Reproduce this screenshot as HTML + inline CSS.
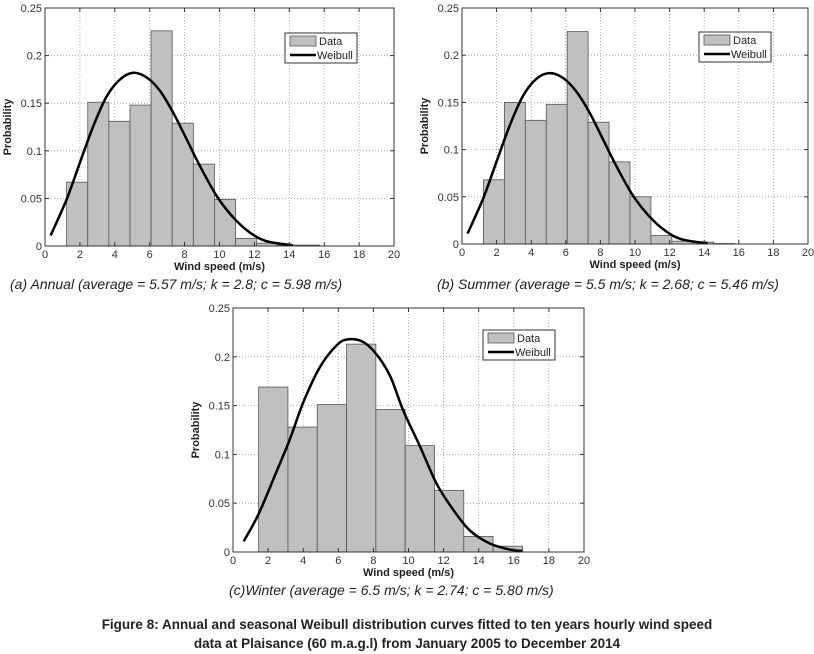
<!DOCTYPE html>
<html><head><meta charset="utf-8"><style>
body{margin:0;background:#fff;width:814px;height:654px;overflow:hidden;position:relative;font-family:"Liberation Sans",Arial,sans-serif}
svg{position:absolute;left:0;top:0}
.cap{position:absolute;font-style:italic;font-size:14px;color:#222;white-space:nowrap}
.fig{position:absolute;left:0;width:814px;text-align:center;font-weight:bold;font-size:13.5px;color:#222;line-height:19px}
</style></head><body>
<svg id="chart" width="814" height="654"></svg>
<div class="cap" style="left:10px;top:276px">(a) Annual (average = 5.57 m/s; k = 2.8; c = 5.98 m/s)</div>
<div class="cap" style="left:437px;top:276px">(b) Summer (average = 5.5 m/s; k = 2.68; c = 5.46 m/s)</div>
<div class="cap" style="left:229px;top:582px">(c)Winter (average = 6.5 m/s; k = 2.74; c = 5.80 m/s)</div>
<div class="fig" style="top:615px">Figure 8: Annual and seasonal Weibull distribution curves fitted to ten years hourly wind speed<br>data at Plaisance (60 m.a.g.l) from January 2005 to December 2014</div>
<script>
const xTicks=[0,2,4,6,8,10,12,14,16,18,20];
const yTicks=[0,0.05,0.1,0.15,0.2,0.25];
const yTickLabels=["0","0.05","0.1","0.15","0.2","0.25"];
const annualBinStart=1.24, annualBinWidth=1.21;
const annualValues=[0.067,0.151,0.131,0.148,0.226,0.129,0.086,0.049,0.008,0.003,0.001,0.001];
const annualCurveX=[0.32,1.24,2.0,2.77,3.53,4.3,5.06,5.83,6.59,7.35,8.12,8.88,9.84,10.79,11.75,12.7,14.2];
const annualCurveY=[0.011,0.049,0.0875,0.126,0.157,0.175,0.182,0.177,0.163,0.14,0.112,0.084,0.0525,0.03,0.014,0.005,0.0007];
const summerBinStart=1.24, summerBinWidth=1.21;
const summerValues=[0.068,0.150,0.131,0.148,0.225,0.129,0.087,0.050,0.009,0.003,0.002,0.0005];
const summerCurveX=[0.32,1.24,2.0,2.77,3.53,4.3,5.06,5.83,6.59,7.35,8.12,8.88,9.84,10.79,11.75,12.7,14.2];
const summerCurveY=[0.011,0.049,0.0875,0.126,0.157,0.175,0.181,0.176,0.162,0.14,0.112,0.084,0.0525,0.03,0.014,0.005,0.0007];
const winterBinStart=1.46, winterBinWidth=1.67;
const winterValues=[0.169,0.128,0.151,0.213,0.146,0.109,0.063,0.016,0.006];
const winterCurveX=[0.61,1.46,2.47,3.23,4.02,4.97,5.92,6.58,7.44,8.2,8.96,9.7,10.66,11.6,12.56,13.5,14.65,15.8,16.5];
const winterCurveY=[0.011,0.039,0.082,0.115,0.154,0.19,0.212,0.218,0.215,0.202,0.18,0.145,0.108,0.07,0.043,0.022,0.0086,0.0024,0.001];

const NS="http://www.w3.org/2000/svg";
const svg=document.getElementById('chart');
function mk(tag,attrs,parent){const e=document.createElementNS(NS,tag);for(const k in attrs)e.setAttribute(k,attrs[k]);(parent||svg).appendChild(e);return e;}
function smoothPath(pts){
  let d='M'+pts[0][0]+','+pts[0][1];
  for(let i=0;i<pts.length-1;i++){
    const p0=pts[Math.max(0,i-1)],p1=pts[i],p2=pts[i+1],p3=pts[Math.min(pts.length-1,i+2)];
    const c1=[p1[0]+(p2[0]-p0[0])/6,p1[1]+(p2[1]-p0[1])/6];
    const c2=[p2[0]-(p3[0]-p1[0])/6,p2[1]-(p3[1]-p1[1])/6];
    d+=` C${c1[0]},${c1[1]} ${c2[0]},${c2[1]} ${p2[0]},${p2[1]}`;
  }
  return d;
}

function drawChart(id,L,R,T,B,binStart,binW,vals,cx,cy,leg){
  const g=mk('g',{});
  
  
  const sx=v=>L+(v-0)/20*(R-L);
  const sy=v=>B-v/0.25*(B-T);
  xTicks.forEach(t=>{if(t>0&&t<20){const l=mk('line',{x1:sx(t),x2:sx(t),y1:T,y2:B,stroke:'#999','stroke-dasharray':'1,2','stroke-width':0.8},g);}});
  yTicks.forEach(t=>{if(t>0&&t<0.25){const l=mk('line',{x1:L,x2:R,y1:sy(t),y2:sy(t),stroke:'#999','stroke-dasharray':'1,2','stroke-width':0.8},g);}});
  vals.forEach((v,i)=>{const x0=sx(binStart+i*binW),x1=sx(binStart+(i+1)*binW);
    const r=mk('rect',{x:x0,y:sy(v),width:x1-x0,height:B-sy(v),fill:'#c0c0c0',stroke:'#555','stroke-width':0.8},g);
    
    });
  const pts=cx.map((x,i)=>[sx(x),sy(cy[i])]);
  const p=mk('path',{d:smoothPath(pts),fill:'none',stroke:'#000','stroke-width':2.5,'stroke-linejoin':'round'},g);
  
  
  const f=mk('rect',{x:L,y:T,width:R-L,height:B-T,fill:'none',stroke:'#333','stroke-width':1},g);
  
  
  xTicks.forEach(t=>{mk('line',{x1:sx(t),x2:sx(t),y1:B,y2:B-4,stroke:'#333'},g);mk('line',{x1:sx(t),x2:sx(t),y1:T,y2:T+4,stroke:'#333'},g);
    const tx=mk('text',{x:sx(t),y:B+12,'font-size':11,'text-anchor':'middle',fill:'#333'},g);tx.textContent=t;
    
    });
  yTicks.forEach((t,i)=>{mk('line',{x1:L,x2:L+4,y1:sy(t),y2:sy(t),stroke:'#333'},g);mk('line',{x1:R,x2:R-4,y1:sy(t),y2:sy(t),stroke:'#333'},g);
    const tx=mk('text',{x:L-3,y:sy(t)+4,'font-size':11,'text-anchor':'end',fill:'#333'},g);tx.textContent=yTickLabels[i];
    
    });
  const xl=mk('text',{x:(L+R)/2,y:B+24,'font-size':11,'font-weight':'bold','text-anchor':'middle',fill:'#222'},g);xl.textContent='Wind speed (m/s)';
  
  
  const yx=L-34,yy=(T+B)/2;
  const yl=mk('text',{x:yx,y:yy,'font-size':11,'font-weight':'bold','text-anchor':'middle',fill:'#222',transform:`rotate(-90 ${yx} ${yy})`},g);yl.textContent='Probability';
  
  
  const lg=mk('g',{},g);
  
  
  mk('rect',{x:leg[0],y:leg[1],width:72,height:30,fill:'#fff',stroke:'#333'},lg);
  mk('rect',{x:leg[0]+5,y:leg[1]+3,width:26,height:10,fill:'#c0c0c0',stroke:'#555','stroke-width':0.8},lg);
  const t1=mk('text',{x:leg[0]+34,y:leg[1]+12,'font-size':11,fill:'#222'},lg);t1.textContent='Data';
  
  
  mk('line',{x1:leg[0]+5,x2:leg[0]+31,y1:leg[1]+22,y2:leg[1]+22,stroke:'#000','stroke-width':2.5},lg);
  const t2=mk('text',{x:leg[0]+32,y:leg[1]+26,'font-size':11,fill:'#222'},lg);t2.textContent='Weibull';
  
  
}
drawChart('annual',45,394,8,246,annualBinStart,annualBinWidth,annualValues,annualCurveX,annualCurveY,[285,33]);
drawChart('summer',462,808,8,244,summerBinStart,summerBinWidth,summerValues,summerCurveX,summerCurveY,[699,32]);
drawChart('winter',233,584,308,552,winterBinStart,winterBinWidth,winterValues,winterCurveX,winterCurveY,[483,330]);
</script>
</body></html>
